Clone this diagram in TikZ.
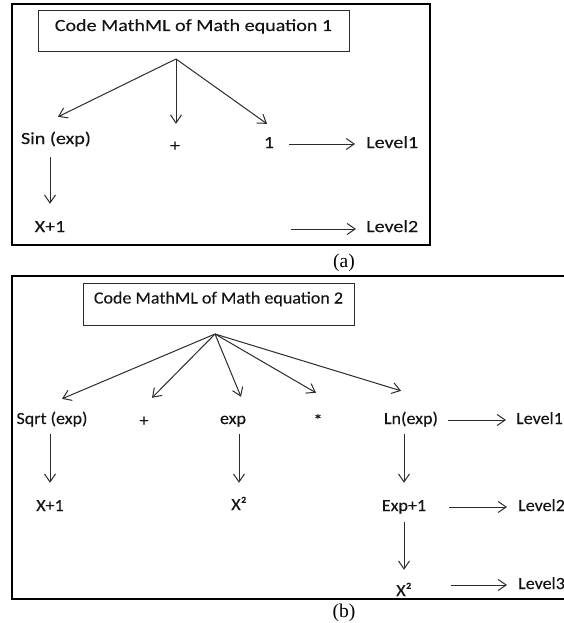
\documentclass[tikz,border=0pt]{standalone}
\usepackage{fontspec}
\setmainfont{Liberation Serif}
\newfontfamily\fa[FakeStretch=1.18,FakeBold=0.15]{Carlito}
\newfontfamily\fb[FakeStretch=1.06,FakeBold=0.15]{Carlito}
\usetikzlibrary{arrows.meta,calc}
\definecolor{txt}{HTML}{141414}
\definecolor{lnc}{HTML}{2C2C2C}
\tikzset{
  frame/.style={draw=black, line width=1.4pt},
  titlea/.style={draw=lnc, line width=1pt, inner sep=0pt, text=txt,
    font=\fa\fontsize{17}{20}\selectfont, text height=11pt, text depth=12pt},
  titleb/.style={draw=lnc, line width=1pt, inner sep=0pt, text=txt,
    font=\fb\fontsize{17}{20}\selectfont, text height=11pt, text depth=12pt},
  ta/.style={font=\fa\fontsize{17}{20}\selectfont, text=txt, inner sep=0pt,
    text height=11pt, text depth=3pt, anchor=base},
  tb/.style={font=\fb\fontsize{17}{20}\selectfont, text=txt, inner sep=0pt,
    text height=11pt, text depth=3pt, anchor=base},
  arr/.style={draw=lnc, line width=1pt, -{Straight Barb[length=8pt,width=11pt]}},
  capt/.style={font=\fontsize{19.5}{22}\selectfont, inner sep=0pt, anchor=base, text=black}
}
\begin{document}
\begin{tikzpicture}[x=1pt,y=-1pt]
\useasboundingbox (0,0) rectangle (564,623);
\fill[white] (0,0) rectangle (564,623);
\clip (0,0) rectangle (564,623);

% ---------------- panel (a) ----------------
\draw[frame] (12,4) rectangle (430,245);
\node[titlea, minimum width=311pt, minimum height=41pt] (t1) at (193.5,31.5) {Code MathML of Math equation 1};
\coordinate (s1) at (176,59);

\node[ta] (sin) at (56,144) {Sin (exp)};
\node[ta] (plusa) at (175,151) {+};
\node[ta] (one) at (269,148) {1};
\node[ta, anchor=base west] (lev1a) at (366,148) {Level1};
\node[ta] (xa) at (50,232) {X+1};
\coordinate (a2) at (291,229);
\node[ta, anchor=base west] (lev2a) at (366,232) {Level2};

\draw[arr] (s1) -- ($(sin.north)+(2,-16)$);
\draw[arr, shorten >=16pt] (s1) -- (s1 |- plusa.north);
\draw[arr] (s1) -- ($(one.north)+(-2,-13)$);
\draw[arr, shorten <=20pt, shorten >=11pt] (one.center) -- (lev1a.west);
\draw[arr, shorten <=10pt, shorten >=17pt] (xa.north |- sin.south) -- (xa.north);
\draw[arr, shorten >=10pt] (a2) -- (a2 -| lev2a.west);

\node[capt] (capa) at (344,267) {(a)};

% ---------------- panel (b) ----------------
\draw[frame] (12,276) rectangle (590,599);
\node[titleb, minimum width=271pt, minimum height=42pt] (t2) at (218.5,304) {Code MathML of Math equation 2};
\coordinate (s2) at (215,334);

\node[tb] (sqrt) at (52,424) {Sqrt (exp)};
\node[tb] (plusb) at (144,426) {+};
\node[tb] (expn) at (233,424) {exp};
\node[tb] (star) at (318,426) {*};
\node[tb] (lnn) at (411,424) {Ln(exp)};
\node[tb, anchor=base west] (lev1b) at (516,424) {Level1};

\node[tb] (xb) at (50,511) {X+1};
\node[tb] (x2a) at (239,510) {X²};
\node[tb] (ep1) at (404,511) {Exp+1};
\node[tb, anchor=base west] (lev2b) at (518,511) {Level2};
\node[tb] (x2b) at (404,596) {X²};
\node[tb, anchor=base west] (lev3b) at (518,589) {Level3};

\draw[arr] (s2) -- ($(sqrt.north)+(10,-14)$);
\draw[arr] (s2) -- ($(plusb.north)+(8,-17)$);
\draw[arr] (s2) -- ($(expn.north)+(8,-16)$);
\draw[arr] (s2) -- ($(star.north)+(-2,-22)$);
\draw[arr] (s2) -- ($(lnn.north)+(-10,-22)$);

\draw[arr, shorten <=37pt, shorten >=10pt] (lnn.center) -- (lev1b.west);
\draw[arr, shorten <=45pt, shorten >=11pt] (ep1.center) -- (lev2b.west);
\draw[arr, shorten <=47pt, shorten >=11pt] (x2b.center |- lev3b.west) -- (lev3b.west);

\draw[arr, shorten <=7pt, shorten >=17pt] (xb.north |- sqrt.south) -- (xb.north);
\draw[arr, shorten <=7pt, shorten >=16pt] (x2a.north |- expn.south) -- (x2a.north);
\draw[arr, shorten <=7pt, shorten >=17pt] (ep1.north |- lnn.south) -- (ep1.north);
\draw[arr, shorten <=8pt, shorten >=15pt] (ep1.south) -- (x2b.north);

\node[capt] (capb) at (344,617) {(b)};
\end{tikzpicture}
\end{document}
